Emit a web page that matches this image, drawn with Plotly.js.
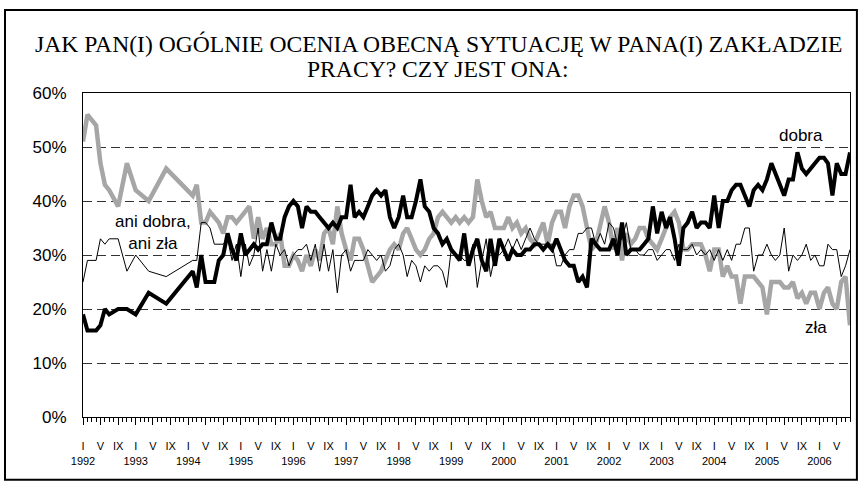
<!DOCTYPE html>
<html>
<head>
<meta charset="utf-8">
<script src="https://cdn.plot.ly/plotly-3.0.1.min.js"></script>
<style>
  html, body { margin: 0; padding: 0; background: #fff; }
  #chart { width: 860px; height: 485px; }
</style>
</head>
<body>
<div id="chart"></div>
<script>
// survey months: sparse until early 1994, monthly from 1994-04 on
const earlyMonths = ['1992-01', '1992-02', '1992-04', '1992-05', '1992-06', '1992-07', '1992-09',
  '1992-11', '1993-01', '1993-04', '1993-08', '1994-02', '1994-03']

function monthList(year, month, count) {
  const out = []
  for (let i = 0; i < count; i += 1) {
    const y = year + Math.floor((month - 1 + i) / 12)
    const m = ((month - 1 + i) % 12) + 1
    out.push(`${y}-${m < 10 ? '0' : ''}${m}`)
  }
  return out
}

const months = earlyMonths.concat(monthList(1994, 4, 149))

// "dobra" (good)
const dobra = [
  19, 16, 16, 17, 20, 19, 20, 20, 19, 23, 21, 27, 24,
  30, 25, 25, 25, 29, 30, 34, 31, 29, 34,
  30, 31, 32, 31, 32, 32, 36, 33, 33, 37,
  39, 40, 39, 35, 39, 38, 38, 37, 36, 35,
  36, 35, 37, 37, 43, 37, 38, 37, 39, 41,
  42, 41, 42, 37, 35, 37, 41, 37, 37, 40,
  44, 39, 38, 35, 34, 32, 33, 31, 30, 29,
  34, 28, 31, 33, 29, 27, 33, 28, 33, 31,
  29, 31, 30, 30, 31, 31, 32, 32, 31, 32,
  31, 33, 31, 29, 28, 28, 25, 26, 24, 33,
  32, 31, 31, 31, 33, 30, 36, 30, 31, 31,
  31, 32, 33, 39, 34, 38, 35, 37, 33, 28,
  35, 36, 38, 35, 36, 36, 35, 41, 35, 40,
  40, 42, 43, 43, 41, 39, 42, 43, 42, 44,
  47, 45, 43, 41, 44, 44, 49, 46, 45, 46,
  47, 48, 48, 47, 41, 47, 45, 45, 49,
]

// "zła" (bad)
const zla = [
  51, 56, 54, 47, 43, 42, 39, 47, 42, 40, 46, 41, 43,
  36, 36, 38, 37, 36, 34, 37, 37, 36, 37,
  38, 39, 33, 37, 33, 35, 32, 32, 34, 28,
  28, 30, 29, 27, 30, 28, 31, 29, 34, 35,
  32, 39, 34, 31, 29, 33, 33, 31, 28, 25,
  26, 27, 29, 31, 32, 31, 34, 35, 33, 31,
  30, 31, 33, 34, 37, 38, 37, 36, 37, 36,
  37, 36, 37, 44, 40, 37, 38, 35, 35, 35,
  37, 35, 36, 34, 35, 33, 32, 34, 36, 32,
  36, 38, 38, 35, 39, 41, 41, 39, 35, 31,
  32, 36, 39, 36, 31, 35, 29, 34, 32, 33,
  35, 35, 33, 32, 31, 33, 35, 37, 38, 36,
  31, 31, 32, 32, 32, 30, 27, 31, 31, 26,
  28, 26, 26, 21, 26, 26, 26, 25, 24, 19,
  25, 25, 25, 24, 24, 25, 22, 23, 21, 23,
  23, 20, 23, 24, 21, 20, 25, 26, 17,
]

// "ani dobra, ani zła" (neither)
const ani = [
  25, 29, 29, 33, 32, 33, 33, 27, 30, 27, 26, 29, 29,
  36, 36, 35, 32, 32, 32, 33, 29, 32, 26,
  32, 28, 30, 35, 27, 31, 27, 32, 30, 31,
  28, 30, 31, 31, 32, 29, 32, 27, 32, 27,
  31, 23, 30, 31, 27, 29, 29, 29, 31, 30,
  29, 30, 27, 28, 31, 32, 30, 26, 29, 28,
  25, 28, 27, 28, 28, 27, 24, 31, 30, 30,
  29, 29, 32, 24, 29, 33, 26, 30, 30, 31,
  33, 31, 33, 31, 33, 35, 33, 32, 32, 32,
  32, 28, 28, 30, 31, 31, 34, 34, 35, 35,
  32, 34, 32, 36, 35, 32, 33, 36, 31, 31,
  30, 30, 31, 31, 29, 30, 31, 31, 29, 32,
  31, 31, 32, 30, 31, 30, 31, 29, 31, 29,
  31, 29, 32, 32, 35, 35, 27, 30, 30, 32,
  30, 29, 30, 35, 27, 30, 29, 30, 32, 29,
  30, 28, 28, 32, 31, 31, 26, 28, 31,
]

// axis labels: roman month under every 4th month, year under January
const years = [1992, 1993, 1994, 1995, 1996, 1997, 1998, 1999, 2000, 2001, 2002, 2003, 2004, 2005, 2006]
const romanMonths = ['I', 'V', 'IX']
const romanNums = ['01', '05', '09']

const tickvals = []
const ticktext = []
years.forEach((yr) => {
  romanNums.forEach((mm, i) => {
    tickvals.push(`${yr}-${mm}-01`)
    ticktext.push(i === 0 ? `I<br>${yr}` : romanMonths[i])
  })
})

const titleLines = ['JAK PAN(I) OGÓLNIE OCENIA OBECNĄ SYTUACJĘ W PANA(I) ZAKŁADZIE', 'PRACY? CZY JEST ONA:']

const zlaTrace = {
  x: months, y: zla, type: 'scatter', mode: 'lines', name: 'zła',
  line: { color: '#a6a6a6', width: 4.5 },
}
const aniTrace = {
  x: months, y: ani, type: 'scatter', mode: 'lines', name: 'ani dobra, ani zła',
  line: { color: '#000', width: 1 },
}
const dobraTrace = {
  x: months, y: dobra, type: 'scatter', mode: 'lines', name: 'dobra',
  line: { color: '#000', width: 4 },
}

const titleFont = { family: 'Liberation Serif, Times New Roman, serif', size: 23.6, color: '#000' }
// title centre sits at x≈438 px, i.e. left of the plot-area centre
const titleX = (438 - 83) / 767

const layout = {
  width: 860,
  height: 485,
  margin: { l: 83, r: 10, t: 93, b: 68 },
  paper_bgcolor: '#fff',
  plot_bgcolor: '#fff',
  showlegend: false,
  font: { family: 'Liberation Sans, Arial, sans-serif', color: '#000' },
  xaxis: {
    type: 'date',
    range: ['1992-01-01', '2006-08-01'],
    tickmode: 'array',
    tickvals,
    ticktext,
    tickangle: 0,
    ticks: 'outside',
    ticklen: 7,
    tickwidth: 1,
    tickcolor: '#000',
    ticklabelstandoff: 12,
    tickfont: { size: 11, color: '#000' },
    minor: { ticks: 'outside', ticklen: 4, tickwidth: 1, tickcolor: '#000', dtick: 'M1', tick0: '1992-01-01', showgrid: false },
    showgrid: false,
    zeroline: false,
    showline: true,
    linecolor: '#000',
    linewidth: 1,
    mirror: true,
  },
  yaxis: {
    range: [0, 60],
    dtick: 10,
    ticksuffix: '%',
    ticks: 'outside',
    ticklen: 12,
    tickcolor: 'rgba(0,0,0,0)',
    tickfont: { size: 17 },
    showgrid: true,
    gridcolor: '#333',
    gridwidth: 1,
    griddash: '9px,5px',
    zeroline: false,
    showline: true,
    linecolor: '#000',
    linewidth: 1,
    mirror: true,
  },
  annotations: [
    { text: titleLines[0], xref: 'paper', yref: 'paper', x: titleX, y: 1.152, xanchor: 'center', yanchor: 'middle', showarrow: false, font: titleFont },
    { text: titleLines[1], xref: 'paper', yref: 'paper', x: titleX, y: 1.073, xanchor: 'center', yanchor: 'middle', showarrow: false, font: titleFont },
    { text: 'dobra', xref: 'paper', yref: 'paper', x: 0.936, y: 0.870, xanchor: 'center', yanchor: 'middle', showarrow: false, font: { size: 17 } },
    { text: 'zła', xref: 'paper', yref: 'paper', x: 0.956, y: 0.275, xanchor: 'center', yanchor: 'middle', showarrow: false, font: { size: 17 } },
    { text: 'ani dobra,<br>ani zła', xref: 'paper', yref: 'paper', x: 0.091, y: 0.569, xanchor: 'center', yanchor: 'middle', showarrow: false, align: 'center', font: { size: 17 } },
  ],
  shapes: [
    // frame round the whole chart
    { type: 'rect', xref: 'paper', yref: 'paper', x0: -0.1017, x1: 1.009, y0: -0.194, y1: 1.256, line: { color: '#000', width: 2 } },
  ],
}

Plotly.newPlot('chart', [zlaTrace, aniTrace, dobraTrace], layout, { displayModeBar: false, staticPlot: true })
</script>
</body>
</html>
